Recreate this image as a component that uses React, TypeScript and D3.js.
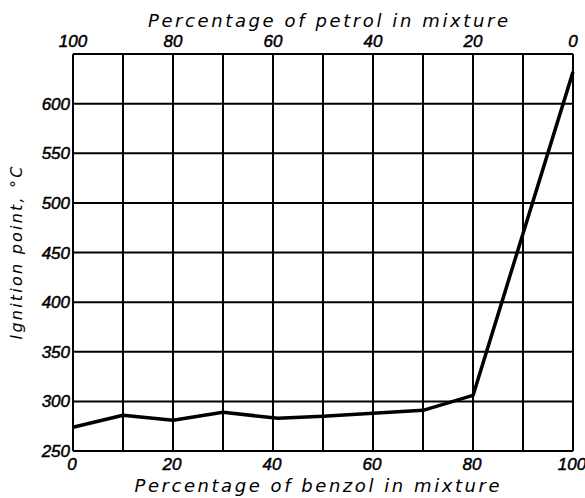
import * as d3 from 'd3';

// benzol % in mixture -> ignition point (°C)
const benzolPct = [0, 10, 20, 30, 41, 50, 60, 70, 80, 100];
const ignitionC = [274, 286, 281, 289, 283, 285, 288, 291, 306, 632];

const bottomTicks = [0, 20, 40, 60, 80, 100];
const topTicks = [100, 80, 60, 40, 20, 0]; // petrol %
const yTicks = [250, 300, 350, 400, 450, 500, 550, 600];
const xGrid = d3.range(0, 101, 10);
const yGrid = [250, 300, 350, 400, 450, 500, 550, 600, 650];

const numFont = '"Liberation Sans", Arial, sans-serif';
const titleFont = '"DejaVu Sans", Verdana, sans-serif';

export default function App() {
  const width = 585;
  const height = 498;
  const left = 73, right = 573, top = 54, bottom = 451;

  const x = d3.scaleLinear().domain([0, 100]).range([left, right]);
  const xPetrol = d3.scaleLinear().domain([100, 0]).range([left, right]);
  const y = d3.scaleLinear().domain([250, 650]).range([bottom, top]);

  const line = d3.line<number>()
    .x((_, i) => x(benzolPct[i]))
    .y(d => y(d));

  const numStyle = { stroke: '#000', strokeWidth: 0.5 };

  return (
    <svg width={width} height={height}
      style={{ position: 'absolute', left: 0, top: 0, background: '#fff' }}
      fontFamily={numFont} fontStyle="italic">
      {/* grid */}
      {xGrid.map(v => (
        <line key={'gx' + v} x1={x(v)} x2={x(v)} y1={top} y2={bottom} stroke="#000" strokeWidth={2} />
      ))}
      {yGrid.map(v => (
        <line key={'gy' + v} x1={left} x2={right} y1={y(v)} y2={y(v)} stroke="#000" strokeWidth={2} />
      ))}

      {/* data */}
      <path d={line(ignitionC) || ''} fill="none" stroke="#000" strokeWidth={3.5} strokeLinejoin="round" />

      {/* bottom axis labels */}
      {bottomTicks.map(v => (
        <text key={'b' + v} x={x(v) - 1} y={470} textAnchor="middle" fontSize={17} style={numStyle}>{v}</text>
      ))}
      <text x={317} y={492} textAnchor="middle" fontSize={18} fontFamily={titleFont}
        textLength={365} lengthAdjust="spacing">
        Percentage of benzol in mixture
      </text>

      {/* top axis labels */}
      {topTicks.map(v => (
        <text key={'t' + v} x={xPetrol(v)} y={47} textAnchor="middle" fontSize={17} style={numStyle}>{v}</text>
      ))}
      <text x={328} y={27} textAnchor="middle" fontSize={18} fontFamily={titleFont}
        textLength={360} lengthAdjust="spacing">
        Percentage of petrol in mixture
      </text>

      {/* y axis labels */}
      {yTicks.map(v => (
        <text key={'y' + v} x={70} y={y(v) + 6} textAnchor="end" fontSize={17} style={numStyle}>{v}</text>
      ))}
      <text transform="translate(22,253) rotate(-90)" textAnchor="middle" fontSize={16}
        fontFamily={titleFont} textLength={173} lengthAdjust="spacing">
        Ignition point, °C
      </text>
    </svg>
  );
}
